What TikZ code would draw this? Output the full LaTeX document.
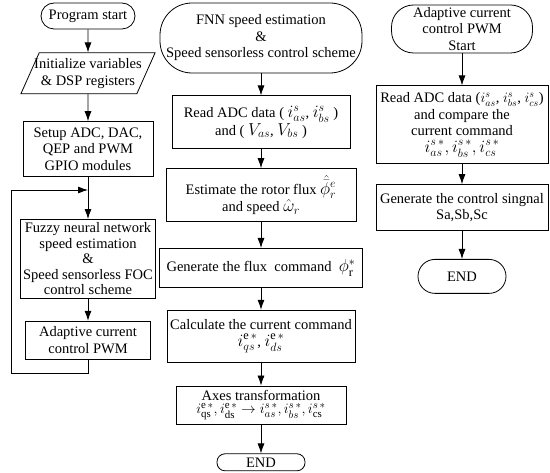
\documentclass[tikz,border=0pt]{standalone}
\usepackage{amsmath, amssymb}
\usepackage{fontspec}
\setmainfont{Liberation Serif}
\usetikzlibrary{positioning, shapes.geometric, arrows.meta, calc}
\newcommand{\mth}[1]{{\fontsize{17.5}{17.5}\selectfont$#1$}}

\begin{document}
\begin{tikzpicture}[x=1pt, y=1pt, thick, >={Latex[length=10pt,width=7pt]},
	font=\fontsize{14.5}{16.5}\selectfont,
	box/.style = {draw, rectangle, align=center, inner sep=2pt},
	term/.style = {draw, rectangle, align=center, inner sep=1pt},
	io/.style = {draw, trapezium, trapezium left angle=66, trapezium right angle=114, align=center, inner ysep=1pt, inner xsep=-16pt}]
	\useasboundingbox (0,0) rectangle (550,-473);

	% left column: main program
	\node[term, rounded corners=13pt, minimum width=94pt, minimum height=26pt] (a1) at (88,-16) {Program start};
	\node[io, minimum height=41pt] (a2) [below=23pt of a1] {Initialize variables\\\& DSP registers};
	\node[box, minimum width=130pt, minimum height=55pt] (a3) [below=27pt of a2] {Setup ADC, DAC,\\QEP and PWM\\GPIO modules};
	\node[box, minimum width=135pt, minimum height=79pt, font=\fontsize{14.5}{15.5}\selectfont] (a4) [below=42pt of a3] {Fuzzy neural network\\speed estimation\\\&\\Speed sensorless FOC\\control scheme};
	\node[box, minimum width=125pt, minimum height=38pt] (a5) [below=22pt of a4] {Adaptive current\\control PWM};
	\coordinate (j) at ($(a3.south)+(0,-13)$);

	\draw[->] (a1) -- (a2);
	\draw[->] (a2) -- (a3);
	\draw[->] (a3) -- (a4);
	\draw[->] (a4) -- (a5);
	\draw[->] (a5.south) -- ++(0,-14) -| ([xshift=-9pt]a4.west |- j) -- (j);

	% middle column: FNN speed estimation
	\node[term, rounded corners=32pt, minimum width=202pt, minimum height=70pt] (b1) at (261,-38) {FNN speed estimation\\\&\\Speed sensorless control scheme};
	\node[box, minimum width=178pt, minimum height=53pt, inner sep=0pt] (b2) [below=22pt of b1] {Read ADC data ( \mth{i^{s}_{as}}, \mth{i^{s}_{bs}} )\\and ( \mth{V_{as}}, \mth{V_{bs}} )};
	\node[box, minimum width=190pt, minimum height=53pt, inner sep=0pt] (b3) [below=19pt of b2] {Estimate the rotor flux \mth{\hat{\bar{\phi}}{}^{e}_{r}}\\[1pt]and speed \mth{\hat{\omega}_{r}}};
	\node[box, minimum width=203pt, minimum height=39pt] (b4) [below=26pt of b3] {Generate the flux\ \ command\ \ \mth{\phi^{*}_{\mathrm{r}}}};
	\node[box, minimum width=188pt, minimum height=52pt, inner sep=0pt] (b5) [below=22pt of b4] {Calculate the current command\\\mth{i^{\mathrm{e}\,*}_{qs}}, \mth{i^{\mathrm{e}\,*}_{ds}}};
	\node[box, minimum width=170pt, minimum height=38pt, inner sep=0pt, font=\fontsize{14.5}{13}\selectfont] (b6) [below=23pt of b5] {Axes transformation\\{\fontsize{15.5}{15.5}\selectfont$i^{\mathrm{e}\,*}_{\mathrm{qs}}, i^{\mathrm{e}\,*}_{\mathrm{ds}} \rightarrow i^{s\,*}_{as}, i^{s\,*}_{bs}, i^{s\,*}_{\mathrm{cs}}$}};
	\node[term, rounded corners=8pt, minimum width=88pt, minimum height=17pt, inner sep=0pt] (b7) [below=29pt of b6] {END};

	\draw[->] (b1) -- (b2);
	\draw[->] (b2) -- (b3);
	\draw[->] (b3) -- (b4);
	\draw[->] (b4) -- (b5);
	\draw[->] (b5) -- (b6);
	\draw[->] (b6) -- (b7);

	% right column: adaptive current control
	\node[term, rounded corners=22pt, minimum width=141pt, minimum height=48pt] (c1) at (462,-29) {Adaptive current\\control PWM\\Start};
	\node[box, minimum width=172pt, minimum height=78pt, inner sep=0pt] (c2) [below=32pt of c1] {Read ADC data ($i^{s}_{as}$, $i^{s}_{bs}$, $i^{s}_{cs}$)\\and compare the\\current command\\\mth{i^{s\,*}_{as}, i^{s\,*}_{bs}, i^{s\,*}_{cs}}};
	\node[box, minimum width=172pt, minimum height=46pt] (c3) [below=20pt of c2] {Generate the control singnal\\Sa,Sb,Sc};
	\node[term, rounded corners=17pt, minimum width=88pt, minimum height=34pt] (c4) [below=28pt of c3] {END};

	\draw[->] (c1) -- (c2);
	\draw[->] (c2) -- (c3);
	\draw[->] (c3) -- (c4);
\end{tikzpicture}
\end{document}
